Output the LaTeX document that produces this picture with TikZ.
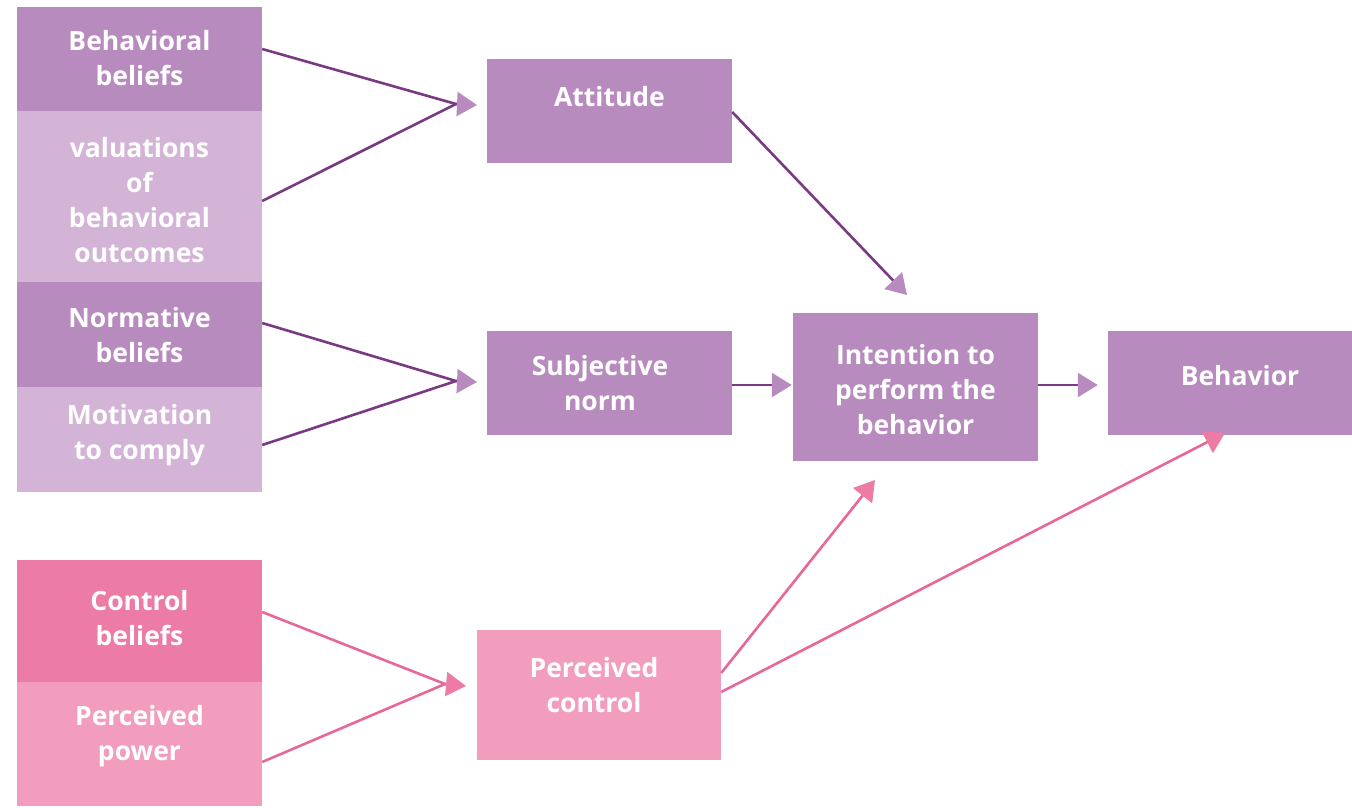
\documentclass[tikz,border=0pt]{standalone}
\usepackage{fontspec}
\setmainfont{Open Sans}
\usetikzlibrary{arrows.meta}
\definecolor{purpdark}{HTML}{B88BBF}
\definecolor{purplight}{HTML}{D3B4D7}
\definecolor{purpline}{HTML}{7A3983}
\definecolor{pinkdark}{HTML}{EC7BA5}
\definecolor{pinklight}{HTML}{F39DBE}
\definecolor{pinkline}{HTML}{E8679A}
\begin{document}
\begin{tikzpicture}[x=1pt,y=-1pt,
  box/.style={rectangle,inner sep=0pt,minimum width=245pt},
  txt/.style={text=white,align=center,font=\fontsize{26.5}{35}\selectfont\bfseries},
  pline/.style={purpline,line width=2.6pt},
  kline/.style={pinkline,line width=2.6pt},
  parrow/.style={pline,-{Triangle[length=20pt,width=24pt,color=purpdark,fill=purpdark]}},
  karrow/.style={kline,-{Triangle[length=20pt,width=24pt,color=pinkdark,fill=pinkdark]}}]
\useasboundingbox (0,0) rectangle (1352,807);

% Left column: beliefs and evaluations
\node[box,fill=purpdark,minimum height=104pt] (bb) at (139.5,59) {};
\node[txt] (bbt) at (139.5,58) {Behavioral\\beliefs};
\node[box,fill=purplight,minimum height=171pt] (vo) at (139.5,196.5) {};
\node[txt] (vot) at (139.5,200) {valuations\\of\\behavioral\\outcomes};
\node[box,fill=purpdark,minimum height=105pt] (nb) at (139.5,334.5) {};
\node[txt] (nbt) at (139.5,335) {Normative\\beliefs};
\node[box,fill=purplight,minimum height=105pt] (mc) at (139.5,439.5) {};
\node[txt] (mct) at (139.5,435) {Motivation\\to comply};
\node[box,fill=pinkdark,minimum height=122pt] (cb) at (139.5,621) {};
\node[txt] (cbt) at (139.5,618) {Control\\beliefs};
\node[box,fill=pinklight,minimum height=124pt] (pp) at (139.5,744) {};
\node[txt] (ppt) at (139.5,736) {Perceived\\power};

% Middle column
\node[box,fill=purpdark,minimum height=104pt] (att) at (609.5,111) {};
\node[txt] (attt) at (609.5,97) {Attitude};
\node[box,fill=purpdark,minimum height=104pt] (sn) at (609.5,383) {};
\node[txt] (snt) at (600,383) {Subjective\\norm};
\node[box,fill=pinklight,minimum height=130pt,minimum width=244pt] (pc) at (599,695) {};
\node[txt] (pct) at (594,685) {Perceived\\control};

% Intention and behavior
\node[box,fill=purpdark,minimum height=148pt] (int) at (915.5,387) {};
\node[txt] (intt) at (915.5,390) {Intention to\\perform the\\behavior};
\node[box,fill=purpdark,minimum height=104pt,minimum width=244pt] (beh) at (1230,383) {};
\node[txt] (beht) at (1240,376) {Behavior};

% Joints and arrow tips
\coordinate (attj) at (456,104);
\coordinate (attin) at (477,105);
\coordinate (snj) at (456,381);
\coordinate (snin) at (477,382);
\coordinate (pcj) at (445,684);
\coordinate (pcin) at (466,686);
\coordinate (intin) at (907,295);
\coordinate (intlow) at (875,480);
\coordinate (behlow) at (1225,433);

% Purple connectors
\draw[pline] ([yshift=10pt]bb.east) -- (attj);
\draw[pline] ([yshift=-4.5pt]vo.east) -- (attj);
\draw[parrow] (attj) -- (attin);
\draw[parrow] ([yshift=-1pt]att.east) -- (intin);
\draw[pline] ([yshift=11.5pt]nb.east) -- (snj);
\draw[pline] ([yshift=-5.5pt]mc.east) -- (snj);
\draw[parrow] (snj) -- (snin);
\draw[parrow] ([yshift=-2pt]sn.east) -- ([yshift=-2pt,xshift=-1pt]int.west |- sn.east);
\draw[parrow] ([yshift=2pt]int.east) -- ([yshift=-2pt,xshift=-10pt]beh.west);

% Pink connectors
\draw[kline] ([yshift=9pt]cb.east) -- (pcj);
\draw[kline] ([yshift=-18pt]pp.east) -- (pcj);
\draw[karrow] (pcj) -- (pcin);
\draw[karrow] ([yshift=22pt]pc.east) -- (intlow);
\draw[karrow] ([yshift=3pt]pc.east) -- (behlow);
\end{tikzpicture}
\end{document}
